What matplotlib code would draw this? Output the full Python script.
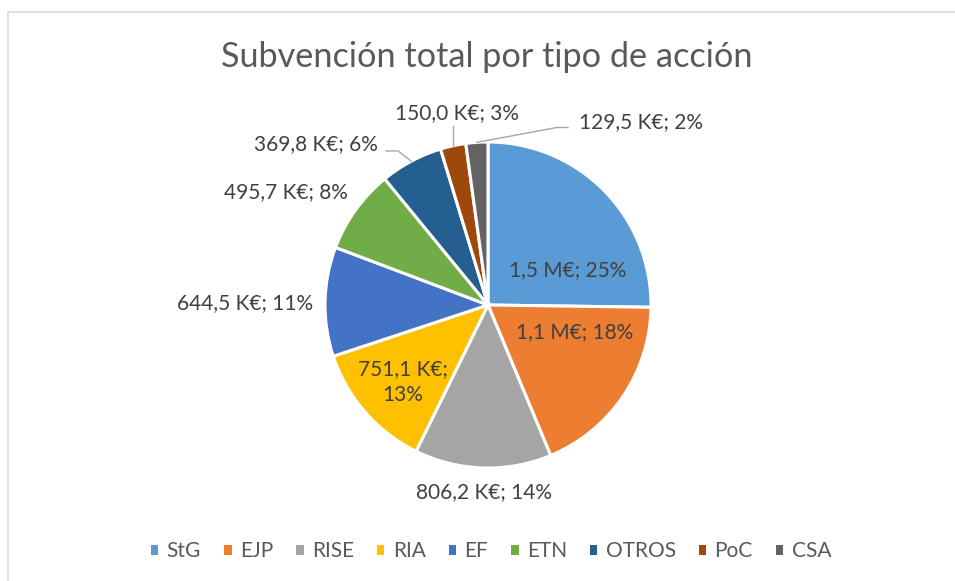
import matplotlib.pyplot as plt
from matplotlib.patches import Patch
from matplotlib.lines import Line2D
import numpy as np

plt.rcParams['font.family'] = ['Lato', 'DejaVu Sans']

# data (K€)
categories = ['StG', 'EJP', 'RISE', 'RIA', 'EF', 'ETN', 'OTROS', 'PoC', 'CSA']
values = [1500.0, 1100.0, 806.2, 751.1, 644.5, 495.7, 369.8, 150.0, 129.5]
colors = ['#5B9BD5', '#ED7D31', '#A5A5A5', '#FFC000', '#4472C4',
          '#70AD47', '#255E91', '#9E480E', '#636363']

# label layout (data coords, pie radius = 1)
label_pos = [(0.491, 0.215), (0.534, -0.164), (-0.025, -1.147),
             (-0.521, -0.472), (-1.488, 0.012), (-1.239, 0.693),
             (-1.055, 0.990), (-0.193, 1.178), (0.939, 1.123)]


def fmt_value(v):
    if v >= 1000:
        return f"{v / 1000:.1f} M€".replace('.', ',')
    return f"{v:.1f} K€".replace('.', ',')


W, H = 955, 581
fig = plt.figure(figsize=(W / 100, H / 100), dpi=100)

# chart border (only top/left visible in the crop)
fig.add_artist(Line2D([8 / W, 8 / W], [0, 1 - 12 / H], color='#D9D9D9', lw=1.2))
fig.add_artist(Line2D([8 / W, 1], [1 - 12 / H, 1 - 12 / H], color='#D9D9D9', lw=1.2))

cx, cy, r = 488, 305, 163
ax = fig.add_axes([(cx - r) / W, (H - cy - r) / H, 2 * r / W, 2 * r / H])

wedges, _ = ax.pie(values, colors=colors, startangle=90, counterclock=False,
                   radius=1, wedgeprops=dict(edgecolor='white', linewidth=2.2))
ax.set_xlim(-1, 1)
ax.set_ylim(-1, 1)
ax.set_aspect('equal')
ax.axis('off')

total = sum(values)
for i, (v, (lx, ly)) in enumerate(zip(values, label_pos)):
    pct = round(v / total * 100)
    txt = f"{fmt_value(v)}; {pct}%"
    if categories[i] == 'RIA':
        txt = f"{fmt_value(v)};\n{pct}%"
    ax.text(lx, ly, txt, ha='center', va='center', fontsize=15,
            color='#404040', linespacing=1.4, clip_on=False)


def edge_point(w):
    a = np.deg2rad((w.theta1 + w.theta2) / 2)
    return np.cos(a), np.sin(a)


lc = dict(color='#A6A6A6', lw=1.0, clip_on=False)
# OTROS
ex, ey = edge_point(wedges[6])
ax.plot([-0.626, -0.552, ex], [0.945, 0.945, ey], **lc)
# PoC
ex, ey = edge_point(wedges[7])
ax.plot([ex, ex], [1.098, ey], **lc)
# CSA
ex, ey = edge_point(wedges[8])
ax.plot([0.491, 0.423, ex], [1.089, 1.089, ey], **lc)

fig.text(487 / W, 1 - 57 / H, 'Subvención total por tipo de acción',
         ha='center', va='center', fontsize=24.7, color='#595959')

handles = [Patch(facecolor=c, edgecolor='none') for c in colors]
fig.legend(handles, categories, loc='center', bbox_to_anchor=(491 / W, 1 - 551 / H),
           ncol=len(categories), frameon=False, fontsize=15,
           handlelength=0.36, handleheight=0.36, handletextpad=0.4,
           columnspacing=1.1, labelcolor='#595959')

fig.savefig('out.png', dpi=100)
